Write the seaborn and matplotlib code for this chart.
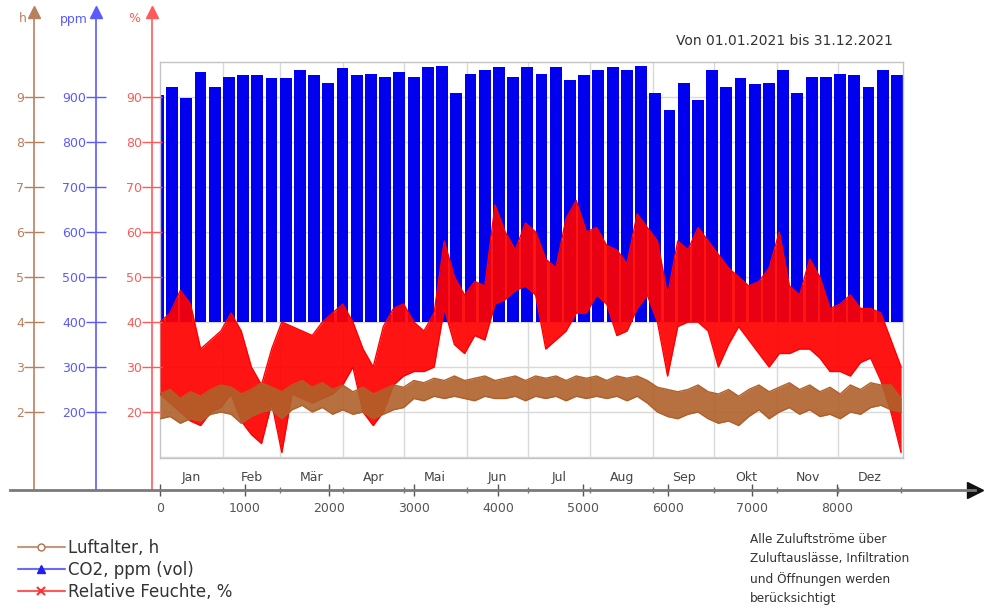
import numpy as np
import pandas as pd
import matplotlib
matplotlib.use("Agg")
import matplotlib.pyplot as plt
from matplotlib.lines import Line2D
import seaborn as sns

# month axis (2021)
month_names = ["Jan", "Feb", "Mär", "Apr", "Mai", "Jun", "Jul", "Aug", "Sep", "Okt", "Nov", "Dez"]
month_days = [31, 28, 31, 30, 31, 30, 31, 31, 30, 31, 30, 31]

# CO2 weekly peak (ppm), weeks start Monday 28.12.2020; base level 400 ppm
co2_base = 400
co2_week_peak = [904, 923, 898, 956, 923, 945, 949, 949, 942, 942, 960, 949, 931, 964,
                 949, 951, 945, 956, 945, 966, 969, 909, 951, 960, 966, 945, 966,
                 951, 966, 938, 949, 960, 966, 960, 969, 908, 871, 931, 893, 960,
                 923, 942, 930, 931, 960, 908, 945, 945, 951, 949, 923, 960, 949]

# relative humidity (%) band, every 120 h
hum_hi = [40, 42, 47, 44, 34, 36, 38, 42, 38, 30, 26, 34, 40, 39, 38, 37, 40, 42, 44,
          40, 34, 30, 39, 43, 44, 40, 38, 42, 58, 50, 46, 49, 48, 66, 60, 56, 62,
          60, 54, 52, 63, 67, 60, 61, 57, 56, 53, 64, 61, 58, 46, 58, 56, 61, 58,
          55, 52, 50, 48, 49, 52, 60, 48, 46, 54, 50, 43, 44, 46, 43, 43, 42, 36, 30]
hum_lo = [24, 22, 20, 18, 17, 20, 21, 24, 18, 15, 13, 22, 11, 24, 23, 22, 23, 24, 26,
          30, 20, 17, 20, 26, 28, 29, 29, 30, 43, 35, 33, 37, 36, 44, 45, 47, 48,
          46, 34, 36, 38, 42, 42, 46, 44, 37, 38, 43, 46, 40, 28, 39, 40, 40, 38,
          30, 35, 39, 36, 33, 30, 33, 33, 34, 34, 32, 29, 29, 28, 31, 32, 27, 20, 11]

# Luftalter (h) band, every 120 h
age_hi = [2.4, 2.5, 2.3, 2.45, 2.35, 2.5, 2.6, 2.55, 2.4, 2.5, 2.65, 2.55, 2.45, 2.6,
          2.7, 2.55, 2.65, 2.5, 2.6, 2.45, 2.55, 2.4, 2.5, 2.6, 2.55, 2.7, 2.65, 2.75,
          2.7, 2.8, 2.7, 2.75, 2.8, 2.7, 2.75, 2.8, 2.7, 2.8, 2.75, 2.8, 2.7, 2.8,
          2.75, 2.8, 2.7, 2.8, 2.75, 2.8, 2.7, 2.55, 2.5, 2.45, 2.5, 2.6, 2.45, 2.4,
          2.5, 2.35, 2.5, 2.6, 2.45, 2.55, 2.65, 2.5, 2.6, 2.45, 2.55, 2.4, 2.6, 2.5,
          2.65, 2.6, 2.6, 2.3]
age_lo = [1.85, 1.9, 1.75, 1.85, 1.8, 1.95, 2.0, 1.95, 1.75, 1.9, 2.0, 2.05, 1.85, 2.05,
          2.15, 2.0, 2.1, 1.95, 2.05, 1.95, 2.0, 1.85, 1.95, 2.05, 2.1, 2.3, 2.25, 2.35,
          2.3, 2.35, 2.3, 2.25, 2.35, 2.3, 2.3, 2.35, 2.25, 2.35, 2.3, 2.35, 2.25, 2.35,
          2.3, 2.35, 2.3, 2.35, 2.25, 2.35, 2.2, 2.0, 1.9, 1.85, 1.95, 2.0, 1.85, 1.75,
          1.8, 1.7, 1.9, 2.05, 1.85, 2.0, 2.1, 1.95, 2.05, 1.9, 1.95, 1.85, 2.0, 1.95,
          2.1, 2.15, 2.05, 2.0]

sns.set_theme(style="white")
plt.rcParams["font.family"] = ["DejaVu Sans"]

W, H = 992, 612
fig = plt.figure(figsize=(W / 100, H / 100), dpi=100)


def box(x0, y0, x1, y1):
    return [x0 / W, 1 - y1 / H, (x1 - x0) / W, (y1 - y0) / H]


# pixel <-> value mapping
px_per_h = 0.0846     # px per hour
px_per_pct = 4.5      # px per %
x0_px, y90_px = 160, 97


def pct_at(y):
    return 90 - (y - y90_px) / px_per_pct


def hour_at(x):
    return (x - x0_px) / px_per_h


blue, red, brown = "#0000ee", "#ff0000", "#b0602a"
c_blue_ax, c_red_ax, c_brown_ax = "#5a5aff", "#ff5a5a", "#b98060"

month_edges = np.concatenate([[0], np.cumsum(month_days) * 24])
month_mid = (month_edges[:-1] + month_edges[1:]) / 2

# main plot area
ax = fig.add_axes(box(160, 62, 903, 458))
ax.set_xlim(hour_at(160), hour_at(903))
pct_lim = (pct_at(458), pct_at(62))
ax.set_ylim(pct_lim[0] * 10, pct_lim[1] * 10)
ax.set_xticks(month_edges[1:-1])
ax.set_yticks(np.arange(100, 1000, 100))
ax.grid(True, color="#d9d9d9", lw=1)
ax.set_axisbelow(True)
ax.tick_params(length=0, labelleft=False, labelbottom=False)
for s in ax.spines.values():
    s.set_color("#c4c4c4")
    s.set_linewidth(1)

week_start = -96 + 168 * np.arange(len(co2_week_peak))
ax.bar(week_start, np.array(co2_week_peak) - co2_base, bottom=co2_base, width=140,
       align="edge", color=blue, linewidth=0, zorder=2)

hours = 120 * np.arange(len(hum_hi))
hours = np.minimum(hours, 8760)

ax_pct = ax.twinx()
ax_pct.set_ylim(*pct_lim)
ax_pct.axis("off")
ax_pct.fill_between(hours, hum_lo, hum_hi, color=red, lw=0, alpha=0.92)
df_h = pd.DataFrame({"t": hours, "hi": hum_hi, "lo": hum_lo})
sns.lineplot(data=df_h, x="t", y="hi", ax=ax_pct, color=red, lw=1)
sns.lineplot(data=df_h, x="t", y="lo", ax=ax_pct, color=red, lw=1)

ax_h = ax.twinx()
ax_h.set_ylim(pct_lim[0] / 10, pct_lim[1] / 10)
ax_h.axis("off")
ax_h.fill_between(hours, age_lo, age_hi, color=brown, lw=0, alpha=0.9)
df_a = pd.DataFrame({"t": hours, "hi": age_hi, "lo": age_lo})
sns.lineplot(data=df_a, x="t", y="hi", ax=ax_h, color=brown, lw=1)
sns.lineplot(data=df_a, x="t", y="lo", ax=ax_h, color=brown, lw=1)
ax_h.set_xlim(ax.get_xlim())
ax_pct.set_xlim(ax.get_xlim())

# three y axes on the left
spine_top, spine_bot = 12, 490
axes_specs = [
    (34, 0.1, np.arange(2, 10), "h", c_brown_ax, 27),
    (96, 10, np.arange(200, 1000, 100), "ppm", c_blue_ax, 88),
    (152, 1, np.arange(20, 100, 10), "%", c_red_ax, 140),
]
for xpx, scale, ticks, label, col, lab_x in axes_specs:
    a = fig.add_axes(box(xpx, spine_top, xpx + 0.01, spine_bot))
    a.patch.set_visible(False)
    a.set_ylim(pct_at(spine_bot) * scale, pct_at(spine_top) * scale)
    for k in ("top", "right", "bottom"):
        a.spines[k].set_visible(False)
    a.spines["left"].set_color(col)
    a.spines["left"].set_linewidth(1.2)
    a.set_xticks([])
    a.set_yticks(ticks)
    a.set_yticklabels([f"{t:g}" for t in ticks])
    a.tick_params(axis="y", left=True, direction="inout", length=14, width=1,
                  colors=col, labelsize=9, pad=0)
    a.plot([0], [1], marker="^", color=col, markersize=9, transform=a.transAxes,
           clip_on=False)
    fig.text(lab_x / W, 1 - 19 / H, label, color=col, fontsize=9, ha="right", va="center")

# x axis line with arrow
axx = fig.add_axes(box(10, 489, 975, 490))
axx.patch.set_visible(False)
axx.set_xlim(hour_at(10), hour_at(975))
axx.set_ylim(0, 1)
for k in ("top", "right", "left"):
    axx.spines[k].set_visible(False)
axx.spines["bottom"].set_color("#7a7a7a")
axx.spines["bottom"].set_linewidth(2)
axx.set_yticks([])
axx.set_xticks(np.arange(0, 9000, 1000))
axx.set_xticks(month_edges, minor=True)
axx.tick_params(axis="x", which="major", bottom=True, direction="inout", length=9,
                width=1, colors="#555555", labelsize=9, pad=4)
axx.tick_params(axis="x", which="minor", bottom=True, direction="inout", length=5,
                width=1, colors="#777777")
axx.plot([1], [0], marker=">", color="#111111", markersize=12, transform=axx.transAxes,
         clip_on=False)
for m, name in zip(month_mid, month_names):
    axx.annotate(name, (m, 0), xytext=(0, 9), textcoords="offset points",
                 ha="center", va="center", fontsize=9, color="#444444")

fig.text(893 / W, 1 - 41 / H, "Von 01.01.2021 bis 31.12.2021", fontsize=10,
         color="#333333", ha="right", va="center")

fig.text(750 / W, 1 - 533 / H,
         "Alle Zuluftströme über\nZuluftauslässe, Infiltration\nund Öffnungen werden\nberücksichtigt",
         fontsize=8.7, color="#333333", ha="left", va="top", linespacing=1.6)

handles = [
    Line2D([], [], color="#c89878", marker="o", markerfacecolor="white",
           markeredgecolor="#b07050", markersize=5),
    Line2D([], [], color="#6a6aff", marker="^", markerfacecolor="#2020ee",
           markeredgecolor="#2020ee", markersize=6),
    Line2D([], [], color="#ff5a5a", marker="x", markeredgecolor="#ff3030",
           markersize=6, markeredgewidth=1.5),
]
labels = ["Luftalter, h", "CO2, ppm (vol)", "Relative Feuchte, %"]
fig.legend(handles, labels, loc="upper left", bbox_to_anchor=(18 / W, 1 - 539 / H),
           frameon=False, fontsize=12, handlelength=2.8, handletextpad=0.2,
           labelspacing=0.25, borderpad=0, borderaxespad=0, labelcolor="#333333")

fig.savefig("out.png", dpi=100)
